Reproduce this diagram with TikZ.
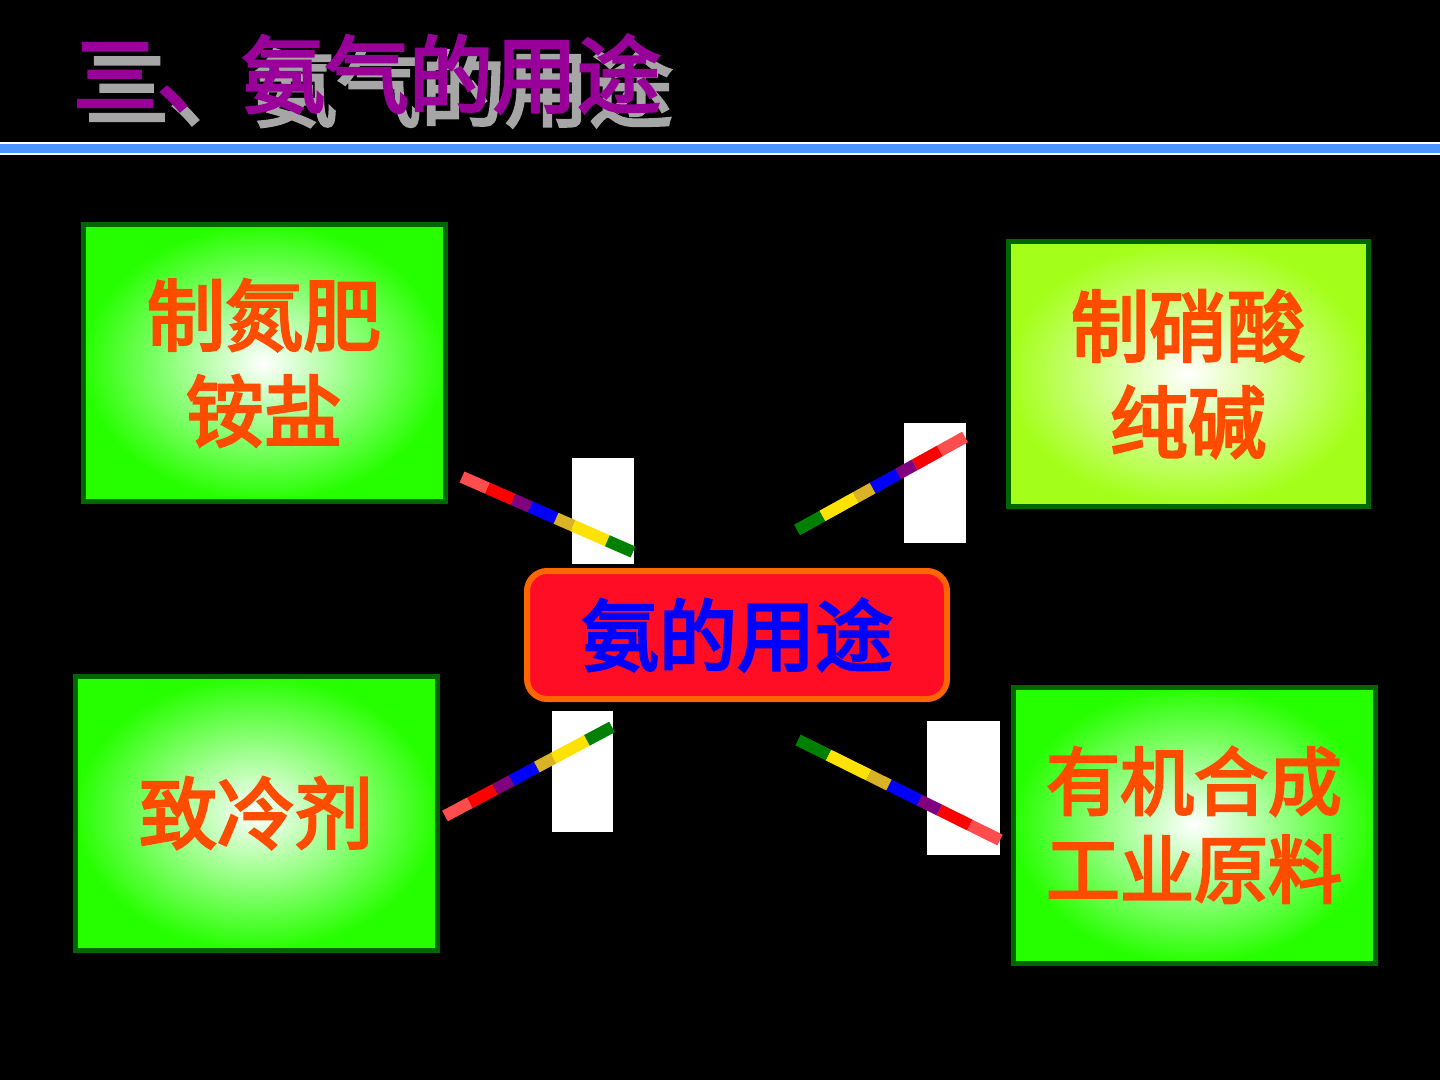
\documentclass[tikz,border=0pt]{standalone}
\usetikzlibrary{calc}
\usepackage{fontspec}
\newfontfamily\cjk{Noto Sans CJK SC}[FakeBold=3.5]
\begin{document}
\begin{tikzpicture}[x=0.5pt,y=-0.5pt,
  box/.style={draw=green!40!black,line width=2.5pt,inner color=white,outer color=green!85!yellow},
  lab/.style={font=\cjk\fontsize{39}{48}\selectfont,text=orange!60!red,align=center},
  wb/.style={fill=white,draw=none}]
\fill[black] (0,0) rectangle (1440,1080);
\useasboundingbox (0,0) rectangle (1440,1080);
% title
\node[font=\cjk\fontsize{42}{50}\selectfont,text=gray!70,anchor=west] (tsh) at (78,88) {三、氨气的用途};
\node[font=\cjk\fontsize{42}{50}\selectfont,text=violet!80!magenta,anchor=west] (title) at (66,74) {三、氨气的用途};
\fill[white] (0,142) rectangle (1440,155);
\fill[blue!60!cyan!70!white] (0,144) rectangle (1440,153);
% boxes
\node[box,minimum width=181pt,minimum height=138pt] (tl) at (264,363) {};
\node[lab] at (tl) {制氮肥\\铵盐};
\node[box,minimum width=180pt,minimum height=132pt,outer color=green!40!yellow!90] (tr) at (1188,374) {};
\node[lab] at (tr) {制硝酸\\纯碱};
\node[box,minimum width=181pt,minimum height=137pt] (bl) at (256,813) {};
\node[lab] at (bl) {致冷剂};
\node[box,minimum width=181pt,minimum height=138pt] (br) at (1194,825) {};
\node[lab,font=\cjk\fontsize{37}{44}\selectfont] at (br) {有机合成\\工业原料};
\node[draw=orange!80!red,fill=red!90!magenta!95!white,line width=3pt,rounded corners=10pt,minimum width=210pt,minimum height=64pt,font=\cjk\fontsize{39}{44}\selectfont,text=blue] (c) at (737,635) {氨的用途};
% white rectangles
\fill[wb] (572,458) rectangle (634,564);
\fill[wb] (904,423) rectangle (966,543);
\fill[wb] (552,711) rectangle (613,832);
\fill[wb] (927,721) rectangle (1000,855);
% striped connectors
\coordinate (a1) at (462,477); \coordinate (a2) at (633,552);
\coordinate (b1) at (965,437); \coordinate (b2) at (797,530);
\coordinate (c1) at (445,816); \coordinate (c2) at (612,727);
\coordinate (d1) at (1000,840); \coordinate (d2) at (798,740);
\foreach \s/\e in {a1/a2,b1/b2,c1/c2,d1/d2}{
  \foreach \f/\g/\col in {0/0.15/red!70,0.15/0.3/red,0.3/0.4/violet,0.4/0.55/blue,0.55/0.65/brown!60!yellow,0.65/0.85/yellow!85!orange,0.85/1/green!50!black}{
    \draw[\col,line width=6pt] ($(\s)!\f!(\e)$) -- ($(\s)!\g!(\e)$);
  }
}
\end{tikzpicture}
\end{document}
